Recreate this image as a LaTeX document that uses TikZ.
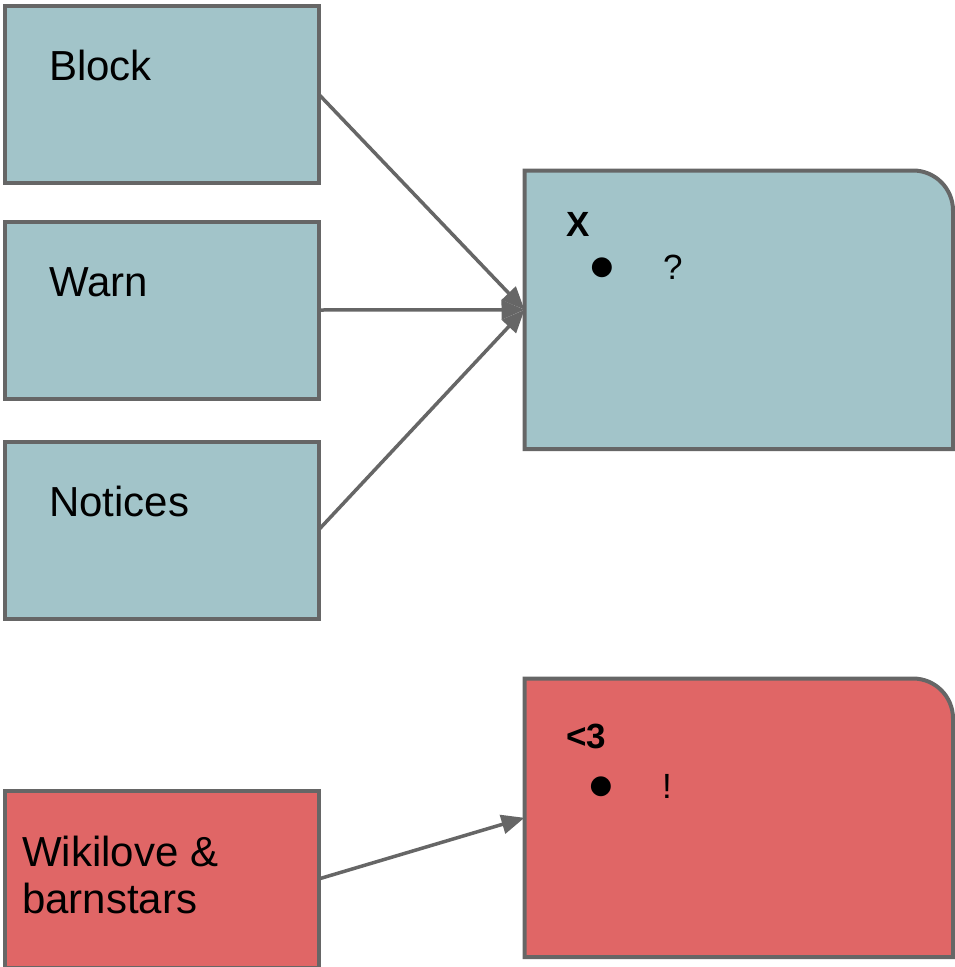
\documentclass[tikz,border=0pt]{standalone}
\usepackage{fontspec}
\setmainfont{Liberation Sans}
\newfontfamily\symfont{DejaVu Sans}
\usetikzlibrary{arrows.meta}
\definecolor{bluefill}{HTML}{A2C4C9}
\definecolor{redfill}{HTML}{E06666}
\definecolor{edgegray}{HTML}{666666}
\begin{document}
\begin{tikzpicture}[x=1pt,y=-1pt,
  box/.style={draw=edgegray, line width=4pt, minimum width=314pt, minimum height=177pt, inner sep=0pt, outer sep=0pt, anchor=north west},
  bigbox/.style={minimum width=428.5pt, minimum height=278.5pt, inner sep=0pt, outer sep=0pt, anchor=north west},
  lbl/.style={anchor=base west, inner sep=0pt, align=left, font=\fontsize{42}{47}\selectfont},
  ttl/.style={anchor=base west, inner sep=0pt, font=\bfseries\fontsize{35}{40}\selectfont},
  txt/.style={anchor=base west, inner sep=0pt, font=\fontsize{35}{40}\selectfont},
  bul/.style={inner sep=0pt, font=\symfont\fontsize{26}{30}\selectfont},
  conn/.style={draw=edgegray, line width=3.5pt, -{Triangle[length=23pt,width=19pt]}}]
\useasboundingbox (0,0) rectangle (955,967);
\fill[white] (0,0) rectangle (955,967);
% left boxes
\node[box, fill=bluefill] (block) at (4.5,5.5) {};
\node[box, fill=bluefill] (warn) at (4.5,221.5) {};
\node[box, fill=bluefill] (notices) at (4.5,441.5) {};
\node[box, fill=redfill] (wiki) at (4.5,790.5) {};
\node[lbl] (blockT) at (49,80) {Block};
\node[lbl] (warnT) at (49,296) {Warn};
\node[lbl] (noticesT) at (49,516) {Notices};
\node[lbl] (wikiT) at (22,913) {Wikilove \&\\barnstars};
% right boxes
\node[bigbox] (xbox) at (524.5,170.5) {};
\path[fill=bluefill, draw=edgegray, line width=4pt]
  (xbox.south west) -- (xbox.north west) -- ([xshift=-40pt]xbox.north east)
  arc[start angle=90, end angle=0, radius=40pt] -- (xbox.south east) -- cycle;
\node[bigbox] (hbox) at (524.5,678.5) {};
\path[fill=redfill, draw=edgegray, line width=4pt]
  (hbox.south west) -- (hbox.north west) -- ([xshift=-40pt]hbox.north east)
  arc[start angle=90, end angle=0, radius=40pt] -- (hbox.south east) -- cycle;
\node[ttl] (xT) at (566,236) {X};
\node[bul] (xB) at (602,268) {●};
\node[txt] (xQ) at (663,279) {?};
\node[ttl] (hT) at (566,748) {<3};
\node[bul] (hB) at (601,787) {●};
\node[txt] (hQ) at (662,798) {!};
% connectors
\draw[conn] (block.east) -- (xbox.west);
\draw[conn] (warn.east) -- (xbox.west);
\draw[conn] (notices.east) -- (xbox.west);
\draw[conn] (wiki.east) -- (hbox.west);
\end{tikzpicture}
\end{document}
